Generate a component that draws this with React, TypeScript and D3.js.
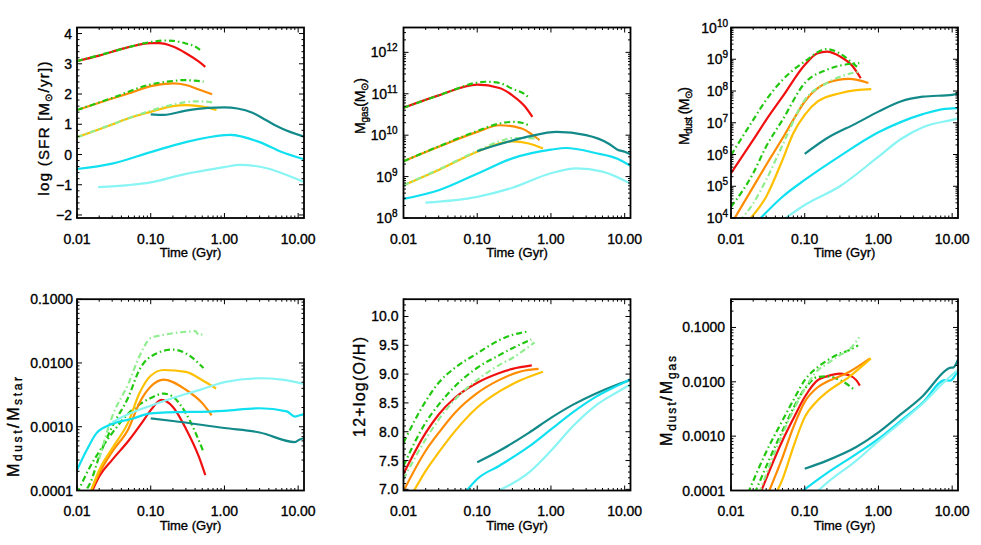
import React from 'react';
import * as d3 from 'd3';

type Pt = [number, number];

// Series order: red, green (dash-dot), orange, green (dash-dot), gold, light green (dash-dot), teal, cyan, light cyan
const SERIES_COLORS = ['#f01010', '#22c810', '#ff8c00', '#22c810', '#ffc000', '#90ee90', '#138a8a', '#10e0f0', '#88f4f4'];
const SERIES_DASHED = [false, true, false, true, false, true, false, false, false];

const TIME_TICKS = [0.01, 0.1, 1, 10];
const TIME_LABELS = ['0.01', '0.10', '1.00', '10.00'];

// log SFR [Msun/yr]
const sfrData: Pt[][] = [
  [[0.01, 3.09], [0.02, 3.27], [0.03, 3.4], [0.05, 3.55], [0.1, 3.68], [0.13, 3.68], [0.2, 3.57], [0.3, 3.35], [0.45, 3.07], [0.55, 2.9]],
  [[0.01, 3.09], [0.03, 3.4], [0.05, 3.55], [0.1, 3.72], [0.15, 3.77], [0.2, 3.76], [0.3, 3.67], [0.4, 3.57], [0.5, 3.4]],
  [[0.01, 1.47], [0.03, 1.85], [0.05, 2.02], [0.1, 2.26], [0.2, 2.35], [0.3, 2.3], [0.45, 2.15], [0.68, 1.99]],
  [[0.01, 1.47], [0.03, 1.87], [0.1, 2.32], [0.2, 2.43], [0.27, 2.46], [0.4, 2.44], [0.52, 2.41]],
  [[0.01, 0.57], [0.03, 0.99], [0.05, 1.2], [0.1, 1.41], [0.2, 1.6], [0.3, 1.63], [0.45, 1.6], [0.6, 1.55], [0.78, 1.47]],
  [[0.01, 0.57], [0.03, 1.0], [0.1, 1.45], [0.2, 1.65], [0.4, 1.76], [0.55, 1.75], [0.7, 1.72]],
  [[0.1, 1.33], [0.15, 1.31], [0.3, 1.45], [0.6, 1.54], [1.0, 1.56], [1.5, 1.52], [2.4, 1.38], [3.7, 1.13], [6, 0.86], [11.7, 0.6]],
  [[0.01, -0.48], [0.03, -0.3], [0.1, 0.08], [0.3, 0.41], [1.0, 0.64], [1.2, 0.65], [3, 0.41], [6, 0.08], [11.7, -0.15]],
  [[0.0194, -1.08], [0.05, -1.01], [0.1, -0.92], [0.3, -0.64], [1, -0.42], [1.6, -0.34], [4, -0.47], [7, -0.68], [11.7, -0.9]],
];

// log10 Mgas [Msun]
const mgasData: Pt[][] = [
  [[0.01, 10.66], [0.03, 10.96], [0.1, 11.22], [0.2, 11.14], [0.3, 10.96], [0.45, 10.68], [0.56, 10.44]],
  [[0.01, 10.66], [0.03, 10.96], [0.13, 11.29], [0.2, 11.26], [0.3, 11.12], [0.45, 10.98], [0.52, 10.88]],
  [[0.01, 9.37], [0.03, 9.72], [0.1, 10.08], [0.2, 10.24], [0.4, 10.16], [0.55, 10.02], [0.7, 9.88]],
  [[0.01, 9.37], [0.03, 9.73], [0.1, 10.1], [0.2, 10.28], [0.3, 10.32], [0.4, 10.3], [0.52, 10.22]],
  [[0.01, 8.79], [0.03, 9.16], [0.1, 9.6], [0.2, 9.8], [0.3, 9.85], [0.5, 9.8], [0.78, 9.68]],
  [[0.01, 8.79], [0.03, 9.17], [0.1, 9.62], [0.2, 9.85], [0.3, 9.93], [0.5, 9.93], [0.67, 9.91]],
  [[0.1, 9.61], [0.2, 9.78], [0.5, 9.97], [1.2, 10.08], [3, 10.0], [6, 9.8], [8, 9.65], [10, 9.6], [12, 9.54]],
  [[0.01, 8.46], [0.03, 8.67], [0.1, 9.07], [0.3, 9.44], [1, 9.65], [1.6, 9.69], [4, 9.57], [8, 9.43], [12, 9.26]],
  [[0.0198, 8.37], [0.1, 8.51], [0.3, 8.73], [1, 9.08], [2.2, 9.2], [5, 9.12], [12, 8.83]],
];

// log10 Mdust [Msun]
const mdustData: Pt[][] = [
  [[0.01, 5.41], [0.02, 6.46], [0.03, 7.09], [0.05, 7.82], [0.1, 8.82], [0.15, 9.19], [0.2, 9.24], [0.3, 9.09], [0.45, 8.77], [0.575, 8.4]],
  [[0.01, 5.98], [0.02, 7.09], [0.03, 7.72], [0.05, 8.35], [0.1, 8.93], [0.2, 9.32], [0.3, 9.18], [0.45, 8.87], [0.55, 8.7]],
  [[0.01, 3.8], [0.02, 4.98], [0.03, 5.67], [0.05, 6.51], [0.07, 7.09], [0.1, 7.67], [0.15, 8.09], [0.2, 8.25], [0.4, 8.38], [0.73, 8.25]],
  [[0.01, 4.35], [0.02, 5.41], [0.03, 6.25], [0.05, 7.09], [0.1, 8.25], [0.2, 8.67], [0.4, 8.85], [0.55, 8.88]],
  [[0.017, 3.9], [0.03, 4.67], [0.05, 5.83], [0.07, 6.67], [0.1, 7.25], [0.15, 7.67], [0.3, 7.93], [0.5, 8.03], [0.8, 8.06]],
  [[0.013, 3.9], [0.02, 4.46], [0.03, 5.2], [0.05, 6.3], [0.1, 7.72], [0.2, 8.25], [0.4, 8.54], [0.55, 8.61]],
  [[0.1, 6.02], [0.2, 6.51], [0.5, 6.98], [1, 7.35], [2, 7.67], [4, 7.82], [10, 7.88], [12, 7.91]],
  [[0.023, 3.9], [0.05, 4.67], [0.1, 5.2], [0.3, 5.95], [1, 6.7], [2, 7.02], [4, 7.27], [8, 7.44], [10, 7.45], [12, 7.46]],
  [[0.048, 3.9], [0.1, 4.41], [0.3, 5.0], [1, 5.93], [2, 6.48], [4, 6.86], [10, 7.09], [12, 7.13]],
];

// log10 Mdust/Mstar
const dustStarData: Pt[][] = [
  [[0.0155, -4.05], [0.02, -3.78], [0.03, -3.52], [0.05, -3.22], [0.08, -2.9], [0.1, -2.74], [0.14, -2.58], [0.2, -2.69], [0.3, -3.03], [0.45, -3.47], [0.55, -3.76]],
  [[0.01, -4.05], [0.015, -3.63], [0.02, -3.39], [0.03, -3.1], [0.05, -2.79], [0.1, -2.55], [0.15, -2.48], [0.2, -2.53], [0.3, -2.79], [0.51, -3.37]],
  [[0.015, -4.05], [0.02, -3.73], [0.03, -3.39], [0.05, -3.03], [0.07, -2.63], [0.1, -2.37], [0.15, -2.26], [0.3, -2.42], [0.5, -2.63], [0.67, -2.82]],
  [[0.01, -4.1], [0.015, -3.89], [0.02, -3.47], [0.03, -3.0], [0.05, -2.53], [0.07, -2.11], [0.1, -1.9], [0.2, -1.79], [0.3, -1.85], [0.52, -2.08]],
  [[0.015, -4.05], [0.02, -3.68], [0.03, -3.34], [0.05, -2.92], [0.07, -2.48], [0.1, -2.2], [0.15, -2.11], [0.3, -2.14], [0.5, -2.27], [0.77, -2.4]],
  [[0.02, -3.5], [0.03, -2.84], [0.05, -2.32], [0.07, -1.9], [0.1, -1.61], [0.15, -1.56], [0.3, -1.51], [0.4, -1.5], [0.45, -1.56], [0.55, -1.53]],
  [[0.1, -2.87], [0.2, -2.91], [1, -3.02], [3, -3.09], [9, -3.24], [10.5, -3.2], [12, -3.18]],
  [[0.01, -3.68], [0.0135, -3.37], [0.0184, -3.1], [0.028, -2.97], [0.058, -2.87], [0.1, -2.79], [1, -2.75], [3, -2.71], [7, -2.76], [9, -2.84], [10.5, -2.82], [12, -2.8]],
  [[0.03, -2.93], [0.05, -2.8], [0.1, -2.67], [0.2, -2.55], [0.5, -2.41], [1, -2.3], [3, -2.24], [6, -2.26], [12, -2.33]],
];

// 12 + log(O/H)
const ohData: Pt[][] = [
  [[0.01, 7.27], [0.02, 7.98], [0.03, 8.3], [0.05, 8.59], [0.1, 8.85], [0.2, 9.02], [0.3, 9.09], [0.55, 9.15]],
  [[0.01, 7.81], [0.02, 8.53], [0.03, 8.85], [0.05, 9.11], [0.1, 9.36], [0.2, 9.59], [0.3, 9.68], [0.49, 9.74]],
  [[0.01, 6.97], [0.02, 7.67], [0.03, 7.98], [0.05, 8.33], [0.1, 8.67], [0.2, 8.9], [0.4, 9.05], [0.68, 9.09]],
  [[0.01, 7.41], [0.02, 8.16], [0.03, 8.47], [0.05, 8.79], [0.1, 9.11], [0.2, 9.33], [0.3, 9.45], [0.54, 9.6]],
  [[0.0138, 6.97], [0.02, 7.32], [0.03, 7.64], [0.05, 8.01], [0.1, 8.42], [0.2, 8.7], [0.4, 8.9], [0.78, 9.04]],
  [[0.01, 7.18], [0.02, 7.87], [0.03, 8.21], [0.05, 8.56], [0.1, 8.9], [0.2, 9.16], [0.3, 9.28], [0.6, 9.55]],
  [[0.1, 7.47], [0.2, 7.67], [0.5, 7.98], [1, 8.24], [2, 8.47], [4, 8.66], [8, 8.82], [12, 8.9]],
  [[0.071, 6.97], [0.1, 7.18], [0.2, 7.41], [0.5, 7.74], [1, 8.04], [2, 8.34], [4, 8.6], [8, 8.8], [12, 8.91]],
  [[0.19, 6.97], [0.5, 7.29], [1, 7.67], [2, 8.1], [4, 8.45], [8, 8.69], [12, 8.82]],
];

// log10 Mdust/Mgas
const dustGasData: Pt[][] = [
  [[0.025, -4.05], [0.05, -3.08], [0.07, -2.68], [0.1, -2.28], [0.15, -1.97], [0.2, -1.9], [0.3, -1.85], [0.4, -1.88], [0.5, -1.97], [0.56, -2.07]],
  [[0.021, -4.05], [0.05, -2.9], [0.1, -2.13], [0.15, -1.91], [0.2, -1.9], [0.3, -1.97], [0.4, -2.07], [0.47, -2.15]],
  [[0.032, -4.05], [0.05, -3.39], [0.07, -2.84], [0.1, -2.37], [0.15, -2.1], [0.2, -2.0], [0.4, -1.82], [0.77, -1.57]],
  [[0.017, -4.05], [0.03, -3.29], [0.05, -2.71], [0.07, -2.34], [0.1, -1.97], [0.15, -1.73], [0.2, -1.61], [0.3, -1.48], [0.4, -1.42], [0.53, -1.33]],
  [[0.041, -4.05], [0.05, -3.79], [0.07, -3.2], [0.1, -2.65], [0.15, -2.34], [0.2, -2.19], [0.4, -1.91], [0.79, -1.57]],
  [[0.024, -4.05], [0.05, -2.96], [0.1, -2.13], [0.15, -1.79], [0.2, -1.67], [0.3, -1.51], [0.4, -1.41], [0.55, -1.18]],
  [[0.1, -3.6], [0.2, -3.45], [0.5, -3.2], [1, -2.93], [2, -2.6], [4, -2.26], [8, -1.8], [9, -1.75], [10.5, -1.73], [12, -1.59]],
  [[0.085, -4.05], [0.2, -3.68], [0.5, -3.33], [1, -3.05], [2, -2.72], [4, -2.38], [8, -1.97], [9.5, -1.98], [10.5, -1.92], [12, -1.8]],
  [[0.14, -4.05], [0.2, -3.86], [0.5, -3.45], [1, -3.09], [2, -2.75], [4, -2.4], [8, -1.99], [12, -1.78]],
];

const sfrTicks = [-2, -1, 0, 1, 2, 3, 4];
const sfrTickLabels = ['\u22122', '\u22121', '0', '1', '2', '3', '4'];
const mgasTickExp = [8, 9, 10, 11, 12];
const mdustTickExp = [4, 5, 6, 7, 8, 9, 10];
const ratioTicks = [0.0001, 0.001, 0.01, 0.1];
const ratioTickLabels = ['0.0001', '0.0010', '0.0100', '0.1000'];
const ohTicks = [7.0, 7.5, 8.0, 8.5, 9.0, 9.5, 10.0];
const ohTickLabels = ['7.0', '7.5', '8.0', '8.5', '9.0', '9.5', '10.0'];

const FONT = '"Liberation Sans", Arial, Helvetica, sans-serif';
const PW = 227;
const COLS = [77, 403.5, 731];
const ROWS = [{ y0: 27.5, h: 190.5 }, { y0: 299.2, h: 191.3 }];
const TXT = { fontFamily: FONT, fill: '#000', stroke: '#000', strokeWidth: 0.35 };

type YSpec = {
  scale: (v: number) => number;
  log: boolean;
  ticks: { v: number; label: React.ReactNode }[];
  minor: number[];
  labelGap: number;
};

type TitleSpec = { x: number; y: number; size: number; len: number; content: React.ReactNode };

function logMinor(lo: number, hi: number): number[] {
  const out: number[] = [];
  for (let e = lo; e < hi; e++) for (let k = 2; k <= 9; k++) out.push(k * Math.pow(10, e));
  return out;
}

function Panel(props: { id: string; col: number; row: number; data: Pt[][]; y: YSpec; title: TitleSpec }) {
  const { id, col, row, data, y, title } = props;
  const x0 = COLS[col];
  const { y0, h } = ROWS[row];
  const x1 = x0 + PW;
  const y1 = y0 + h;
  const xs = d3.scaleLog().domain([0.01, 12]).range([x0, x1]);
  const xMinor = logMinor(-2, 2).filter((t) => t <= 12);
  const line = d3
    .line<Pt>()
    .x((d) => xs(d[0]))
    .y((d) => y.scale(y.log ? Math.pow(10, d[1]) : d[1]))
    .curve(d3.curveMonotoneX);
  const MAJ = 5;
  const MIN = 2.5;
  const tickStroke = { stroke: '#000', strokeWidth: 1 };
  return (
    <g>
      <defs>
        <clipPath id={id}>
          <rect x={x0} y={y0} width={PW} height={h} />
        </clipPath>
      </defs>
      <g clipPath={`url(#${id})`}>
        {data.map((s, i) => (
          <path
            key={i}
            d={line(s) || ''}
            fill="none"
            stroke={SERIES_COLORS[i]}
            strokeWidth={2.2}
            strokeDasharray={SERIES_DASHED[i] ? '6,3,1.5,3' : undefined}
            strokeLinejoin="round"
          />
        ))}
      </g>
      {TIME_TICKS.map((t) => (
        <g key={'xt' + t}>
          <line x1={xs(t)} x2={xs(t)} y1={y1} y2={y1 - MAJ} {...tickStroke} />
          <line x1={xs(t)} x2={xs(t)} y1={y0} y2={y0 + MAJ} {...tickStroke} />
        </g>
      ))}
      {xMinor.map((t) => (
        <g key={'xm' + t}>
          <line x1={xs(t)} x2={xs(t)} y1={y1} y2={y1 - MIN} {...tickStroke} />
          <line x1={xs(t)} x2={xs(t)} y1={y0} y2={y0 + MIN} {...tickStroke} />
        </g>
      ))}
      {y.ticks.map((t, i) => (
        <g key={'yt' + i}>
          <line x1={x0} x2={x0 + MAJ} y1={y.scale(t.v)} y2={y.scale(t.v)} {...tickStroke} />
          <line x1={x1} x2={x1 - MAJ} y1={y.scale(t.v)} y2={y.scale(t.v)} {...tickStroke} />
        </g>
      ))}
      {y.minor.map((v, i) => (
        <g key={'ym' + i}>
          <line x1={x0} x2={x0 + MIN} y1={y.scale(v)} y2={y.scale(v)} {...tickStroke} />
          <line x1={x1} x2={x1 - MIN} y1={y.scale(v)} y2={y.scale(v)} {...tickStroke} />
        </g>
      ))}
      <rect x={x0} y={y0} width={PW} height={h} fill="none" stroke="#000" strokeWidth={1.8} />
      {TIME_TICKS.map((t, i) => (
        <text key={'xl' + t} x={xs(t)} y={y1 + 25.5} textAnchor="middle" fontSize={14} {...TXT}>
          {TIME_LABELS[i]}
        </text>
      ))}
      <text x={(x0 + x1) / 2} y={y1 + 39} textAnchor="middle" fontSize={13} {...TXT}>
        Time (Gyr)
      </text>
      {y.ticks.map((t, i) => (
        <text key={'yl' + i} x={x0 - y.labelGap} y={y.scale(t.v) + 5} textAnchor="end" fontSize={14} {...TXT}>
          {t.label}
        </text>
      ))}
      <text
        transform={`translate(${title.x},${title.y}) rotate(-90)`}
        textAnchor="middle"
        fontSize={title.size}
        textLength={title.len}
        lengthAdjust="spacing"
        {...TXT}
      >
        {title.content}
      </text>
    </g>
  );
}

const SUN = '\u2299';

export default function App() {
  const r0 = ROWS[0];
  const r1 = ROWS[1];
  const sfrY = d3.scaleLinear().domain([-2.1, 4.2]).range([r0.y0 + r0.h, r0.y0]);
  const mgasY = d3.scaleLog().domain([1e8, Math.pow(10, 12.6)]).range([r0.y0 + r0.h, r0.y0]);
  const mdustY = d3.scaleLog().domain([1e4, 1e10]).range([r0.y0 + r0.h, r0.y0]);
  const dsY = d3.scaleLog().domain([1e-4, 0.1]).range([r1.y0 + r1.h, r1.y0]);
  const ohY = d3.scaleLinear().domain([6.98, 10.3]).range([r1.y0 + r1.h, r1.y0]);
  const dgY = d3.scaleLog().domain([1e-4, Math.pow(10, -0.48)]).range([r1.y0 + r1.h, r1.y0]);

  const sup = (e: number) => (
    <>
      10<tspan dy={-6} fontSize={10}>{e}</tspan>
    </>
  );
  const sub = (s: string, fs: number, d: number) => (
    <tspan fontSize={fs} dy={d}>
      {s}
    </tspan>
  );
  const sfrMinor = d3.range(-2.0, 4.2, 0.2).filter((v) => Math.abs(v - Math.round(v)) > 0.01);
  const ohMinor = d3.range(7.0, 10.3, 0.1).filter((v) => Math.abs(v * 2 - Math.round(v * 2)) > 0.01);

  return (
    <svg width={981} height={545} style={{ position: 'absolute', left: 0, top: 0, background: '#fff' }}>
      <rect x={0} y={0} width={981} height={545} fill="#fff" />
      <Panel
        id="c1"
        col={0}
        row={0}
        data={sfrData}
        y={{
          scale: sfrY,
          log: false,
          ticks: sfrTicks.map((v, i) => ({ v, label: sfrTickLabels[i] })),
          minor: sfrMinor,
          labelGap: 5,
        }}
        title={{
          x: 48.5,
          y: 128.5,
          size: 15,
          len: 134,
          content: (
            <>
              log (SFR [M{sub(SUN, 10, 3)}
              <tspan dy={-3}>/yr])</tspan>
            </>
          ),
        }}
      />
      <Panel
        id="c2"
        col={1}
        row={0}
        data={mgasData}
        y={{
          scale: mgasY,
          log: true,
          ticks: mgasTickExp.map((e) => ({ v: Math.pow(10, e), label: sup(e) })),
          minor: logMinor(8, 13).filter((v) => v < Math.pow(10, 12.6)),
          labelGap: 6,
        }}
        title={{
          x: 365,
          y: 106,
          size: 14,
          len: 56,
          content: (
            <>
              M{sub('gas', 10, 3)}
              <tspan dy={-3}>(M</tspan>
              {sub(SUN, 10, 3)}
              <tspan dy={-3}>)</tspan>
            </>
          ),
        }}
      />
      <Panel
        id="c3"
        col={2}
        row={0}
        data={mdustData}
        y={{
          scale: mdustY,
          log: true,
          ticks: mdustTickExp.map((e) => ({ v: Math.pow(10, e), label: sup(e) })),
          minor: logMinor(4, 10),
          labelGap: 3,
        }}
        title={{
          x: 689,
          y: 116,
          size: 14,
          len: 58,
          content: (
            <>
              M{sub('dust', 10, 3)}
              <tspan dy={-3}> (M</tspan>
              {sub(SUN, 10, 3)}
              <tspan dy={-3}>)</tspan>
            </>
          ),
        }}
      />
      <Panel
        id="c4"
        col={0}
        row={1}
        data={dustStarData}
        y={{
          scale: dsY,
          log: true,
          ticks: ratioTicks.map((v, i) => ({ v, label: ratioTickLabels[i] })),
          minor: logMinor(-4, -1),
          labelGap: 4,
        }}
        title={{
          x: 18.5,
          y: 427,
          size: 16,
          len: 100,
          content: (
            <>
              M{sub('dust', 12, 3.5)}
              <tspan dy={-3.5}>/M</tspan>
              {sub('star', 12, 3.5)}
            </>
          ),
        }}
      />
      <Panel
        id="c5"
        col={1}
        row={1}
        data={ohData}
        y={{
          scale: ohY,
          log: false,
          ticks: ohTicks.map((v, i) => ({ v, label: ohTickLabels[i] })),
          minor: ohMinor,
          labelGap: 5,
        }}
        title={{ x: 364.5, y: 387, size: 16, len: 100, content: <>12+log(O/H)</> }}
      />
      <Panel
        id="c6"
        col={2}
        row={1}
        data={dustGasData}
        y={{
          scale: dgY,
          log: true,
          ticks: ratioTicks.map((v, i) => ({ v, label: ratioTickLabels[i] })),
          minor: logMinor(-4, 0).filter((v) => v < Math.pow(10, -0.48)),
          labelGap: 6,
        }}
        title={{
          x: 672,
          y: 401,
          size: 16,
          len: 90,
          content: (
            <>
              M{sub('dust', 12, 3.5)}
              <tspan dy={-3.5}>/M</tspan>
              {sub('gas', 12, 3.5)}
            </>
          ),
        }}
      />
    </svg>
  );
}
